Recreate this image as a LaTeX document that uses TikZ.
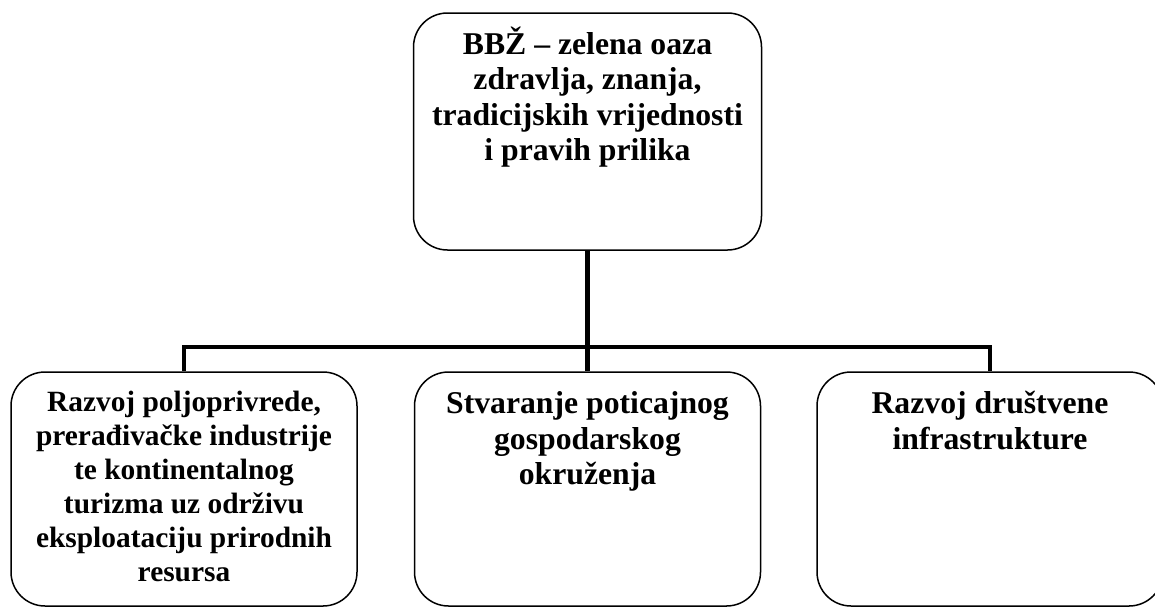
\documentclass[tikz,border=0pt]{standalone}
\usepackage{fontspec}
\setmainfont{Liberation Serif}
\newcommand{\lines}[1]{\begin{tabular}[t]{@{}c@{}}#1\end{tabular}}
\begin{document}
\begin{tikzpicture}[x=1pt,y=-1pt,
  box/.style={draw, line width=1.5pt, rounded corners=34pt, inner sep=0pt},
  txt/.style={anchor=base, inner sep=0pt},
  big/.style={font=\bfseries\fontsize{31.7}{35.5}\selectfont},
  small/.style={font=\bfseries\fontsize{29.4}{34}\selectfont},
  link/.style={line width=4.8pt}]
\useasboundingbox (0,0) rectangle (1155,608);
\node[box, minimum width=348pt, minimum height=237pt] (top) at (587.5,131.5) {};
\node[box, minimum width=346pt, minimum height=234pt] (b1) at (184,489) {};
\node[box, minimum width=346pt, minimum height=234pt] (b2) at (587.5,489) {};
\node[box, minimum width=346pt, minimum height=234pt] (b3) at (990,489) {};
\coordinate (bus) at (0,347);
\node[txt, big] (ttop) at ([yshift=-42pt]top.north)
  {\lines{BBŽ – zelena oaza\\zdravlja, znanja,\\tradicijskih vrijednosti\\i pravih prilika}};
\node[txt, small] (t1) at ([yshift=-40pt]b1.north)
  {\lines{Razvoj poljoprivrede,\\prerađivačke industrije\\te kontinentalnog\\turizma uz održivu\\eksploataciju prirodnih\\resursa}};
\node[txt, big] (t2) at ([yshift=-42.5pt]b2.north)
  {\lines{Stvaranje poticajnog\\gospodarskog\\okruženja}};
\node[txt, big] (t3) at ([yshift=-42.5pt]b3.north)
  {\lines{Razvoj društvene\\infrastrukture}};
\draw[link] (top.south) -- (b2.north);
\draw[link] (b1.north) |- (b3.north |- bus) -- (b3.north);
\end{tikzpicture}
\end{document}
